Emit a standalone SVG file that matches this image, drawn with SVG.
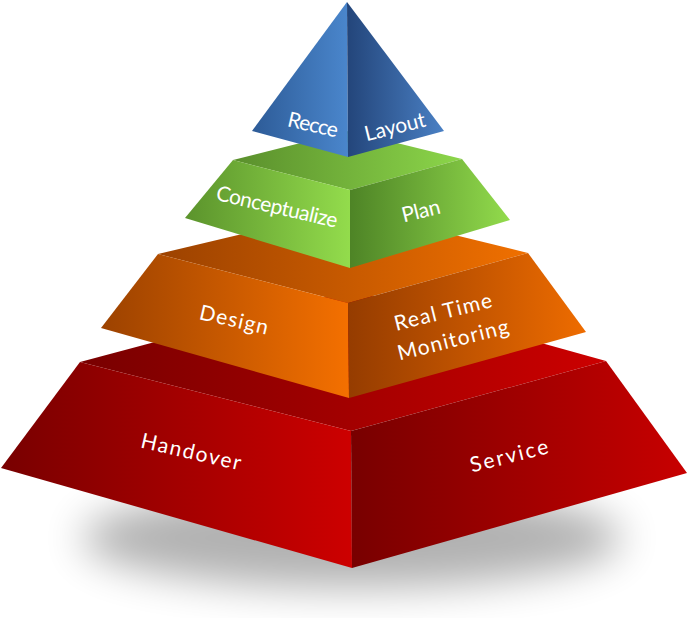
<svg xmlns="http://www.w3.org/2000/svg" width="687" height="618" viewBox="0 0 687 618">
<defs>
  <filter id="blur" x="-30%" y="-100%" width="160%" height="300%">
    <feGaussianBlur stdDeviation="20"/>
  </filter>
  <linearGradient id="bL" x1="0" y1="0" x2="1" y2="0"><stop offset="0" stop-color="#2d5b97"/><stop offset="1" stop-color="#4a86cc"/></linearGradient>
  <linearGradient id="bR" x1="0" y1="0" x2="1" y2="0"><stop offset="0" stop-color="#23457a"/><stop offset="1" stop-color="#4a80c4"/></linearGradient>
  <linearGradient id="gT" x1="0" y1="0" x2="1" y2="0"><stop offset="0" stop-color="#5a8f2c"/><stop offset="1" stop-color="#8cd64a"/></linearGradient>
  <linearGradient id="gL" x1="0" y1="0" x2="1" y2="0"><stop offset="0" stop-color="#5b932c"/><stop offset="1" stop-color="#93dc4c"/></linearGradient>
  <linearGradient id="gR" x1="0" y1="0" x2="1" y2="0"><stop offset="0" stop-color="#4e8426"/><stop offset="1" stop-color="#92db4c"/></linearGradient>
  <linearGradient id="oT" x1="0" y1="0" x2="1" y2="0"><stop offset="0" stop-color="#9c4200"/><stop offset="1" stop-color="#f07000"/></linearGradient>
  <linearGradient id="oL" x1="0" y1="0" x2="1" y2="0"><stop offset="0" stop-color="#9c4200"/><stop offset="1" stop-color="#f47000"/></linearGradient>
  <linearGradient id="oR" x1="0" y1="0" x2="1" y2="0"><stop offset="0" stop-color="#953c00"/><stop offset="1" stop-color="#ee6c00"/></linearGradient>
  <linearGradient id="rT" x1="0" y1="0" x2="1" y2="0"><stop offset="0" stop-color="#780000"/><stop offset="1" stop-color="#cc0000"/></linearGradient>
  <linearGradient id="rL" x1="0" y1="0" x2="1" y2="0"><stop offset="0" stop-color="#780000"/><stop offset="1" stop-color="#cd0000"/></linearGradient>
  <linearGradient id="rR" x1="0" y1="0" x2="1" y2="0"><stop offset="0" stop-color="#780000"/><stop offset="1" stop-color="#c80000"/></linearGradient>
</defs>
<style>
  .lbl { font-family: Lato, "Open Sans", "DejaVu Sans", sans-serif; font-size: 21px; fill: #ffffff; text-anchor: middle; }
</style>
<rect width="687" height="618" fill="#ffffff"/>
<ellipse cx="352" cy="538" rx="270" ry="50" fill="#000" opacity="0.3" filter="url(#blur)"/>

<g id="tier-red">
  <polygon points="80,362 350,290 606,361 351,431" fill="url(#rT)"/>
  <polygon points="80,362 351,431 352,568 1,468" fill="url(#rL)"/>
  <polygon points="351,431 606,361 687,473 352,568" fill="url(#rR)"/>
  <text class="lbl" transform="translate(191,452) rotate(13)" y="7" textLength="102" lengthAdjust="spacing">Handover</text>
  <text class="lbl" transform="translate(509,456) rotate(-14)" y="7" textLength="80" lengthAdjust="spacing">Service</text>
</g>

<g id="tier-orange">
  <polygon points="158,254 348,209 528,253 348,303" fill="url(#oT)"/>
  <polygon points="158,254 348,303 349,398 101,328" fill="url(#oL)"/>
  <polygon points="348,303 528,253 586,332 349,398" fill="url(#oR)"/>
  <text class="lbl" transform="translate(234,320) rotate(13)" y="7" textLength="70" lengthAdjust="spacing">Design</text>
  <text class="lbl" transform="translate(443,312) rotate(-14)" y="7" textLength="100" lengthAdjust="spacing">Real Time</text>
  <text class="lbl" transform="translate(453,340) rotate(-14)" y="7" textLength="114" lengthAdjust="spacing">Monitoring</text>
</g>

<g id="tier-green">
  <polygon points="233,160 348,131 462,159 350,190" fill="url(#gT)"/>
  <polygon points="233,160 350,190 350,268 185,218" fill="url(#gL)"/>
  <polygon points="350,190 462,159 510,220 350,268" fill="url(#gR)"/>
  <text class="lbl" transform="translate(277,207) rotate(13)" y="7" textLength="124" lengthAdjust="spacing">Conceptualize</text>
  <text class="lbl" transform="translate(421,211) rotate(-14)" y="7" textLength="39" lengthAdjust="spacing">Plan</text>
</g>

<g id="tier-blue">
  <polygon points="347,2 348,157 252,131" fill="url(#bL)"/>
  <polygon points="347,2 444,131 348,157" fill="url(#bR)"/>
  <text class="lbl" transform="translate(313,125) rotate(13)" y="7" textLength="51" lengthAdjust="spacing">Recce</text>
  <text class="lbl" transform="translate(395,127) rotate(-14)" y="7" textLength="62" lengthAdjust="spacing">Layout</text>
</g>

<g id="connectors"></g>
</svg>
